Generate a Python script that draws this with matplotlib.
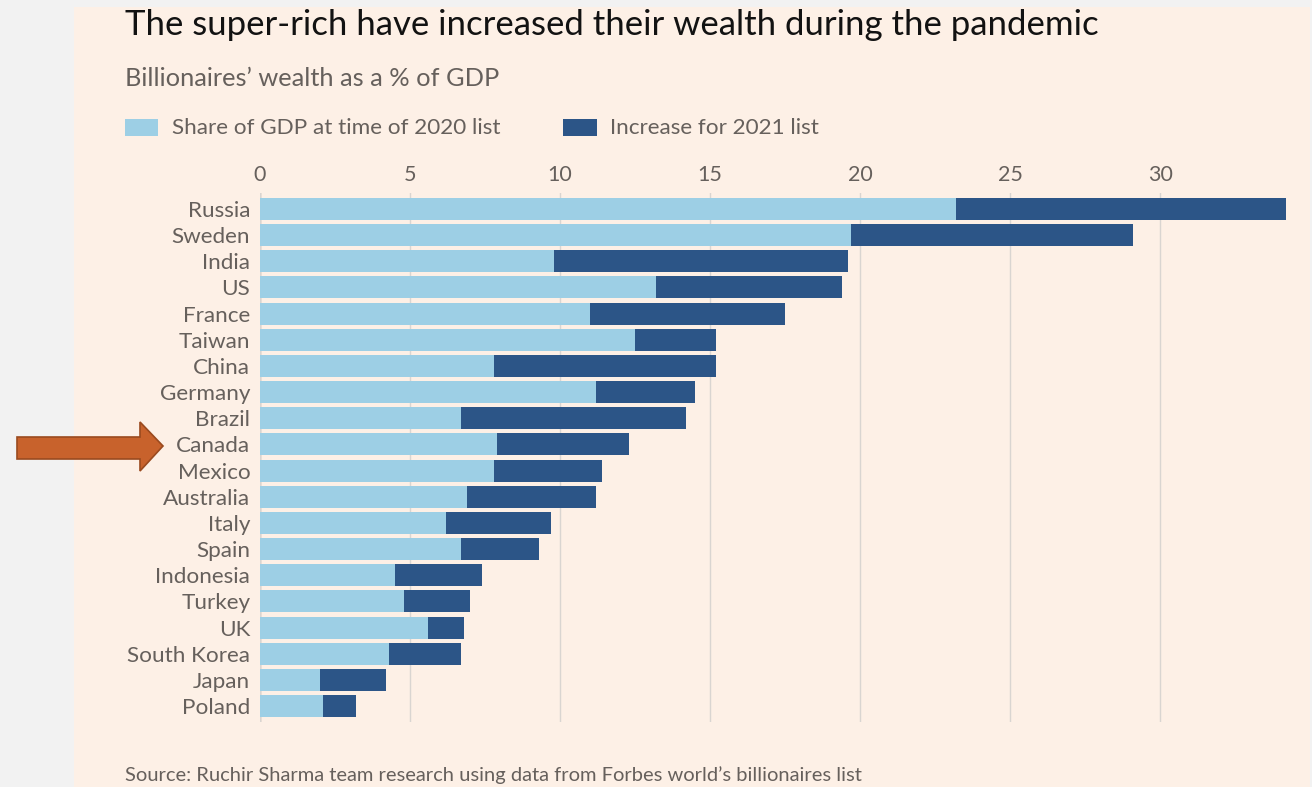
import matplotlib.pyplot as plt
from matplotlib.patches import Rectangle, Polygon
import numpy as np

countries = ['Russia', 'Sweden', 'India', 'US', 'France', 'Taiwan', 'China', 'Germany',
             'Brazil', 'Canada', 'Mexico', 'Australia', 'Italy', 'Spain', 'Indonesia',
             'Turkey', 'UK', 'South Korea', 'Japan', 'Poland']
share_2020 = [23.2, 19.7, 9.8, 13.2, 11.0, 12.5, 7.8, 11.2, 6.7, 7.9,
              7.8, 6.9, 6.2, 6.7, 4.5, 4.8, 5.6, 4.3, 2.0, 2.1]
total_2021 = [34.2, 29.1, 19.6, 19.4, 17.5, 15.2, 15.2, 14.5, 14.2, 12.3,
              11.4, 11.2, 9.7, 9.3, 7.4, 7.0, 6.8, 6.7, 4.2, 3.2]
increase_2021 = [t - s for t, s in zip(total_2021, share_2020)]
xticks = [0, 5, 10, 15, 20, 25, 30]

light = '#9dcfe5'
dark = '#2c5587'
cream = '#fdf0e6'
grey_text = '#66605c'

plt.rcParams['font.family'] = ['Lato', 'DejaVu Sans']

W, H = 1312, 787
fig = plt.figure(figsize=(W / 100, H / 100), dpi=100, facecolor='#f2f2f2')

# cream panel behind the chart
fig.patches.append(Rectangle((74 / W, 0), (1310 - 74) / W, 1 - 7 / H,
                             transform=fig.transFigure, facecolor=cream,
                             edgecolor='none', zorder=-1))

ax = fig.add_axes([260 / W, 1 - 721.7 / H, (1290 - 260) / W, (721.7 - 193.3) / H])
ax.set_zorder(2)
ax.set_facecolor('none')

y = np.arange(len(countries))
ax.barh(y, share_2020, height=0.84, color=light, zorder=2)
ax.barh(y, increase_2021, left=share_2020, height=0.84, color=dark, zorder=2)

ax.set_xlim(0, 34.33)
ax.set_ylim(19.6, -0.6)
ax.set_yticks(y)
ax.set_yticklabels(countries, fontsize=16.2, color=grey_text)
ax.set_xticks(xticks)
ax.set_xticklabels([str(t) for t in xticks], fontsize=15.5, color=grey_text)
ax.xaxis.tick_top()
ax.tick_params(axis='x', length=0, pad=6)
ax.tick_params(axis='y', length=0, pad=7)
ax.grid(axis='x', color='#d9d5d1', linewidth=1, zorder=0)
ax.axvline(0, color='#a9a5a2', linewidth=1, zorder=1)
for s in ax.spines.values():
    s.set_visible(False)

# titles
fig.text(125 / W, 1 - 35 / H, 'The super-rich have increased their wealth during the pandemic',
         fontsize=25, color='#121212', va='baseline')
fig.text(125 / W, 1 - 86 / H, 'Billionaires\u2019 wealth as a % of GDP',
         fontsize=18.3, color=grey_text, va='baseline')

# legend
fig.patches.append(Rectangle((125 / W, 1 - 136 / H), 33 / W, 17 / H,
                             transform=fig.transFigure, facecolor=light, edgecolor='none'))
fig.text(172 / W, 1 - 128 / H, 'Share of GDP at time of 2020 list',
         fontsize=16.2, color=grey_text, va='center')
fig.patches.append(Rectangle((563 / W, 1 - 136 / H), 34 / W, 17 / H,
                             transform=fig.transFigure, facecolor=dark, edgecolor='none'))
fig.text(610 / W, 1 - 128 / H, 'Increase for 2021 list',
         fontsize=16.2, color=grey_text, va='center')

fig.text(125 / W, 1 - 775 / H,
         'Source: Ruchir Sharma team research using data from Forbes world\u2019s billionaires list',
         fontsize=14.5, color=grey_text, va='center')

# orange arrow pointing at Canada
arrow_px = [(17, 437), (140, 437), (140, 422), (163, 446), (140, 471), (140, 459), (17, 459)]
fig.patches.append(Polygon([(px / W, 1 - py / H) for px, py in arrow_px], closed=True,
                           transform=fig.transFigure, facecolor='#c8622c',
                           edgecolor='#9a4a1f', linewidth=1.2, zorder=5))

fig.savefig('out.png', dpi=100, facecolor=fig.get_facecolor())
